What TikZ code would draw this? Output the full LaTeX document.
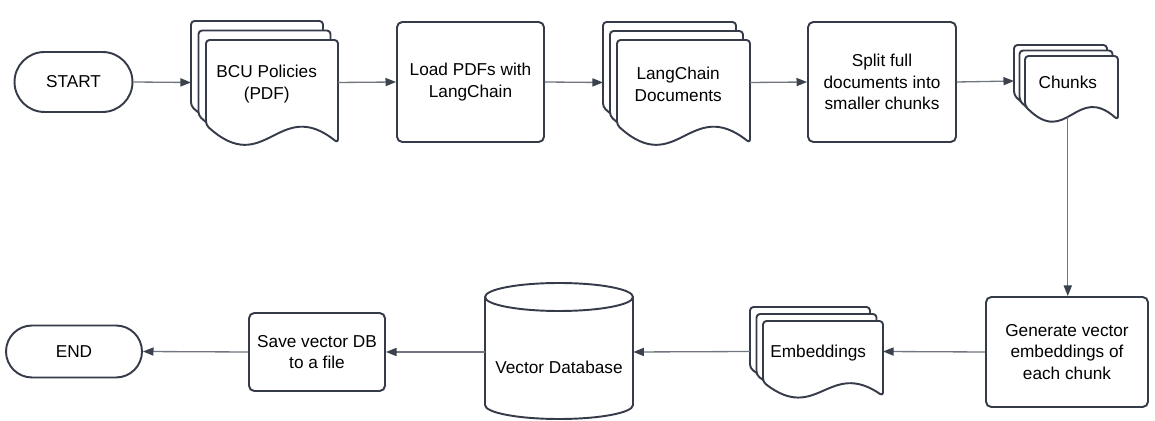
\documentclass[tikz,border=0pt]{standalone}
\usepackage{fontspec}
\setmainfont{Liberation Sans}
\usetikzlibrary{arrows.meta}

\definecolor{shapeline}{HTML}{353B48}
\definecolor{linegray}{HTML}{70757E}
\definecolor{tipgray}{HTML}{3B414D}

\tikzset{
	txt/.style={align=center, font=\fontsize{9.8}{12.2}\selectfont, inner sep=0pt},
	box/.style={txt, draw=shapeline, fill=white, line width=1.1pt, rounded corners=3pt},
	term/.style={txt, draw=shapeline, fill=white, line width=1.1pt},
	page/.style={draw=shapeline, fill=white, line width=1.1pt, rounded corners=2pt, line join=round},
	flow/.style={draw=linegray, line width=0.75pt, -{Triangle[length=6pt, width=4.6pt, color=tipgray]}}
}

% one page of a document stack: x, y, width, left height, right height
\newcommand{\docpage}[5]{%
	\filldraw[page] (#1+#3,#2+#5) .. controls (#1+0.55*#3,#2+#4-1.65*#5+1.65*#4) and (#1+0.45*#3,#2+#4+3*#5-3*#4) .. (#1,#2+#4) -- (#1,#2) -- (#1+#3,#2) -- cycle;
}
% stack of three pages: name, x, y, width, left height, right height, dx, dy, text
\newcommand{\docstack}[9]{%
	\docpage{#2}{#3}{#4}{#5}{#6}
	\docpage{#2+#7}{#3+#8}{#4}{#5}{#6}
	\docpage{#2+2*#7}{#3+2*#8}{#4}{#5}{#6}
	\node[txt] (#1) at (#2+2*#7+0.46*#4, #3+2*#8+0.52*#5) {#9};
	\coordinate (#1-w) at (#2, #3+2*#8+0.5*#5);
	\coordinate (#1-e) at (#2+2*#7+#4, #3+2*#8+0.5*#5);
	\coordinate (#1-s) at (#2+2*#7+0.46*#4, #3+2*#8+#5+0.765*#6-0.765*#5);
}

\begin{document}
\begin{tikzpicture}[x=0.02cm, y=-0.02cm]
	\useasboundingbox (0,0) rectangle (1155,421);

	\node[term, minimum width=2.36cm, minimum height=1.2cm, rounded corners=0.6cm] (start) at (73.5,82) {START};
	\docstack{bcu}{191}{21}{132}{85}{103}{7.5}{9.5}{BCU Policies\\(PDF)}
	\node[box, minimum width=2.94cm, minimum height=2.4cm] (load) at (470.5,82) {Load PDFs with\\LangChain};
	\docstack{lcdocs}{603}{22}{133}{85}{103}{7}{9}{LangChain\\Documents}
	\node[box, minimum width=2.96cm, minimum height=2.4cm] (split) at (882,82) {Split full\\documents into\\smaller chunks};
	\docstack{chunks}{1014}{45}{93}{50}{64}{5.5}{5.5}{Chunks}

	\node[box, minimum width=3.24cm, minimum height=2.2cm] (gen) at (1067,352) {Generate vector\\embeddings of\\each chunk};
	\docstack{emb}{750}{307}{120}{61}{75}{6.5}{7}{Embeddings}

	\filldraw[page, rounded corners=0pt] (485,297) -- (485,405) arc[start angle=180, end angle=360, x radius=1.48cm, y radius=0.28cm] -- (633,297) arc[start angle=0, end angle=180, x radius=1.48cm, y radius=0.28cm] -- cycle;
	\draw[page, fill=none, rounded corners=0pt] (485,297) arc[start angle=180, end angle=360, x radius=1.48cm, y radius=0.28cm];
	\node[inner sep=0pt, minimum width=2.96cm, minimum height=2.16cm] (vdb) at (559,352) {};
	\node[txt] (vdbtext) at (559,367) {Vector Database};

	\node[box, minimum width=2.72cm, minimum height=1.56cm] (save) at (317,352) {Save vector DB\\to a file};
	\node[term, minimum width=2.72cm, minimum height=1.04cm, rounded corners=0.52cm] (end) at (74,351.5) {END};

	\draw[flow] (start.east) -- (bcu-w);
	\draw[flow] (bcu-e) -- (load.west);
	\draw[flow] (load.east) -- (lcdocs-w);
	\draw[flow] (lcdocs-e) -- (split.west);
	\draw[flow] (split.east) -- (chunks-w);
	\draw[flow] (chunks-s) -- (chunks-s |- gen.north);
	\draw[flow] (gen.west) -- (emb-e);
	\draw[flow] (emb-w) -- (vdb.east);
	\draw[flow] (vdb.west) -- (save.east);
	\draw[flow] (save.west) -- (end.east);

\end{tikzpicture}
\end{document}
